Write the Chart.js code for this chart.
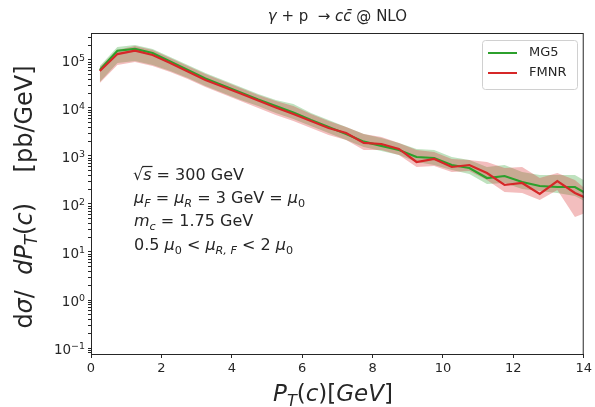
<!DOCTYPE html>
<html>
<head>
<meta charset="utf-8">
<script src="https://cdn.jsdelivr.net/npm/chart.js@4"></script>
<style>
  body { margin: 0; background: #fff; }
  canvas { display: block; }
</style>
</head>
<body>
<canvas id="myChart" width="595" height="407"></canvas>
<script>
// bin centres in GeV
var ptBins = [0.25, 0.75, 1.25, 1.75, 2.25, 2.75, 3.25, 3.75, 4.25, 4.75, 5.25, 5.75, 6.25, 6.75, 7.25,
              7.75, 8.25, 8.75, 9.25, 9.75, 10.25, 10.75, 11.25, 11.75, 12.25, 12.75, 13.25, 13.75, 14.25];

// MG5 central and scale band
var mg5 = [6.2e4, 1.56e5, 1.70e5, 1.40e5, 9.3e4, 6.2e4, 4.12e4, 2.94e4, 2.10e4, 1.50e4, 1.10e4, 8.06e3, 5.62e3, 4.02e3, 2.87e3,
           1.99e3, 1.62e3, 1.33e3, 953, 908, 649, 562, 348, 383, 287, 237, 226, 226, 140];
var mg5Up = [7.5e4, 1.87e5, 2.05e5, 1.70e5, 1.155e5, 7.87e4, 5.36e4, 3.83e4, 2.74e4, 1.96e4, 1.47e4, 1.21e4, 7.87e3, 5.62e3, 4.02e3,
             2.87e3, 2.37e3, 1.87e3, 1.40e3, 1.33e3, 953, 825, 590, 649, 464, 402, 402, 402, 249];
var mg5Lo = [3.48e4, 8.66e4, 9.5e4, 7.87e4, 5.9e4, 4.22e4, 2.87e4, 2.05e4, 1.47e4, 1.10e4, 7.87e3, 5.9e3, 4.22e3, 3.01e3, 2.15e3,
             1.54e3, 1.27e3, 1.05e3, 750, 649, 511, 422, 261, 274, 205, 187, 170, 147, 95];

// FMNR central and scale band
var fmnr = [5.9e4, 1.33e5, 1.56e5, 1.27e5, 8.66e4, 5.75e4, 3.83e4, 2.78e4, 2.0e4, 1.43e4, 1.02e4, 7.5e3, 5.36e3, 3.83e3, 3.01e3,
            1.87e3, 1.78e3, 1.40e3, 750, 866, 590, 649, 442, 249, 274, 162, 301, 170, 116];
var fmnrUp = [7.15e4, 1.62e5, 1.96e5, 1.62e5, 1.10e5, 7.5e4, 5.11e4, 3.65e4, 2.61e4, 1.87e4, 1.40e4, 1.10e4, 7.5e3, 5.36e3, 4.02e3,
              2.87e3, 2.49e3, 1.87e3, 1.33e3, 1.21e3, 866, 825, 750, 562, 590, 348, 442, 316, 154];
var fmnrLo = [3.32e4, 7.87e4, 9.08e4, 7.5e4, 5.62e4, 4.02e4, 2.74e4, 1.96e4, 1.40e4, 1.0e4, 7.15e3, 5.36e3, 3.83e3, 2.74e3, 2.15e3,
              1.33e3, 1.33e3, 1.05e3, 590, 619, 464, 487, 316, 178, 170, 121, 196, 53.6, 75];

var xTicks = [0, 2, 4, 6, 8, 10, 12, 14];
var yDecades = [-1, 0, 1, 2, 3, 4, 5];

var green = '#2ca02c';
var red = '#d62728';
var ink = '#262626';
var FONT = "'DejaVu Sans', sans-serif";

function pts(arr) {
    return ptBins.map(function (x, i) { return { x: x, y: arr[i] }; });
}

// draw a run of mixed text: kinds n = normal, i = italic, sn / si = subscript, up = superscript
function runFont(kind, size) {
    var sub = kind === 'sn' || kind === 'si';
    var sup = kind === 'up';
    var it = kind.indexOf('i') >= 0;
    var sz = (sub || sup) ? size * 0.7 : size;
    return { font: (it ? 'italic ' : '') + sz + 'px ' + FONT, dy: sub ? size * 0.22 : (sup ? -size * 0.38 : 0) };
}
function drawRuns(ctx, x, y, runs, size, align) {
    var total = 0;
    runs.forEach(function (r) {
        ctx.font = runFont(r[1], size).font;
        total += ctx.measureText(r[0]).width;
    });
    var cx = align === 'center' ? x - total / 2 : (align === 'right' ? x - total : x);
    ctx.textAlign = 'left';
    ctx.textBaseline = 'alphabetic';
    var spans = [];
    runs.forEach(function (r) {
        var f = runFont(r[1], size);
        ctx.font = f.font;
        var w = ctx.measureText(r[0]).width;
        ctx.fillText(r[0], cx, y + f.dy);
        spans.push([cx, w]);
        cx += w;
    });
    return spans;
}

var decorations = {
    id: 'decorations',
    afterDraw: function (chart) {
        var ctx = chart.ctx;
        var a = chart.chartArea;
        var ys = chart.scales.y;
        ctx.save();
        ctx.fillStyle = ink;

        // frame
        ctx.strokeStyle = ink;
        ctx.lineWidth = 1;
        ctx.strokeRect(a.left + 0.5, a.top + 0.5, a.right - a.left - 1, a.bottom - a.top);

        // decade labels 10^n
        yDecades.forEach(function (e) {
            var py = ys.getPixelForValue(Math.pow(10, e));
            drawRuns(ctx, a.left - 6, py + 6, [['10', 'n'], [String(e).replace('-', '\u2212'), 'up']], 13.5, 'right');
        });

        // title
        drawRuns(ctx, (a.left + a.right) / 2, 21,
            [['\u03B3', 'i'], [' + p  \u2192 ', 'n'], ['cc\u0304', 'i'], [' @ NLO', 'n']], 15, 'center');

        // annotations
        var s = drawRuns(ctx, 133, 180, [['\u221A', 'n'], ['s', 'i'], [' = 300 GeV', 'n']], 16);
        ctx.lineWidth = 1.2;
        ctx.beginPath();
        ctx.moveTo(s[1][0] - 1, 166.5);
        ctx.lineTo(s[1][0] + s[1][1] + 1, 166.5);
        ctx.stroke();
        drawRuns(ctx, 134, 203, [['\u03BC', 'i'], ['F', 'si'], [' = ', 'n'], ['\u03BC', 'i'], ['R', 'si'],
            [' = 3 GeV = ', 'n'], ['\u03BC', 'i'], ['0', 'sn']], 16);
        drawRuns(ctx, 134, 226, [['m', 'i'], ['c', 'si'], [' = 1.75 GeV', 'n']], 16);
        drawRuns(ctx, 134, 250, [['0.5 ', 'n'], ['\u03BC', 'i'], ['0', 'sn'], [' < ', 'n'], ['\u03BC', 'i'],
            ['R, F', 'si'], [' < 2 ', 'n'], ['\u03BC', 'i'], ['0', 'sn']], 16);

        // axis titles
        drawRuns(ctx, 333, 401,
            [['P', 'i'], ['T', 'si'], ['(', 'n'], ['c', 'i'], [')[', 'n'], ['GeV', 'i'], [']', 'n']], 23, 'center');
        ctx.save();
        ctx.translate(32, 197);
        ctx.rotate(-Math.PI / 2);
        drawRuns(ctx, 0, 0, [['d', 'n'], ['\u03C3', 'i'], ['/  ', 'n'], ['dP', 'i'], ['T', 'si'], ['(', 'n'], ['c', 'i'],
            [')    [pb/GeV]', 'n']], 24, 'center');
        ctx.restore();

        // legend
        var lx = 482, ly = 40, lw = 95, lh = 49;
        ctx.beginPath();
        ctx.roundRect(lx + 0.5, ly + 0.5, lw, lh, 3);
        ctx.fillStyle = 'rgba(255,255,255,0.8)';
        ctx.fill();
        ctx.strokeStyle = '#d0d0d0';
        ctx.lineWidth = 1;
        ctx.stroke();
        [[green, 'MG5', 53], [red, 'FMNR', 73]].forEach(function (e) {
            ctx.strokeStyle = e[0];
            ctx.lineWidth = 2;
            ctx.beginPath();
            ctx.moveTo(488, e[2]);
            ctx.lineTo(517, e[2]);
            ctx.stroke();
            ctx.fillStyle = ink;
            ctx.font = '13px ' + FONT;
            ctx.textBaseline = 'middle';
            ctx.fillText(e[1], 529, e[2]);
        });
        ctx.restore();
    }
};

function band(arr, color, fill, order) {
    return { data: pts(arr), borderWidth: 0, pointRadius: 0, fill: fill, backgroundColor: color,
             borderColor: 'rgba(0,0,0,0)', order: order };
}

var ctx = document.getElementById('myChart').getContext('2d');
var myChart = new Chart(ctx, {
    type: 'line',
    data: {
        datasets: [
            { label: 'FMNR', data: pts(fmnr), borderColor: red, borderWidth: 2.2, pointRadius: 0, fill: false, order: 0 },
            { label: 'MG5', data: pts(mg5), borderColor: green, borderWidth: 2.2, pointRadius: 0, fill: false, order: 1 },
            band(fmnrUp, 'rgba(214,39,40,0.3)', '+1', 2),
            band(fmnrLo, 'rgba(0,0,0,0)', false, 2),
            band(mg5Up, 'rgba(44,160,44,0.3)', '+1', 3),
            band(mg5Lo, 'rgba(0,0,0,0)', false, 3)
        ]
    },
    options: {
        responsive: false,
        animation: false,
        devicePixelRatio: 1,
        layout: { padding: { top: 33, right: 11, left: 0, bottom: 0 } },
        plugins: {
            legend: { display: false },
            tooltip: { enabled: false }
        },
        scales: {
            x: {
                type: 'linear',
                min: 0,
                max: 14,
                afterBuildTicks: function (s) { s.ticks = xTicks.map(function (v) { return { value: v }; }); },
                ticks: { font: { family: FONT, size: 13 }, color: ink, padding: 3, maxRotation: 0 },
                grid: { drawOnChartArea: false, tickLength: 4, tickColor: ink },
                border: { color: ink },
                afterFit: function (s) { s.height = 53; }
            },
            y: {
                type: 'logarithmic',
                min: 0.075,
                max: 3.65e5,
                afterBuildTicks: function (s) {
                    var t = [];
                    for (var e = -2; e <= 5; e++) {
                        for (var m = 1; m <= 9; m++) {
                            var v = m * Math.pow(10, e);
                            if (v >= s.min && v <= s.max) t.push({ value: v });
                        }
                    }
                    s.ticks = t;
                },
                // decade labels are drawn with real superscripts by the plugin
                ticks: { autoSkip: false, display: true, color: 'rgba(0,0,0,0)', callback: function () { return ''; } },
                grid: { drawOnChartArea: false, tickLength: 3, tickColor: ink },
                border: { color: ink },
                afterFit: function (s) { s.width = 91; }
            }
        }
    },
    plugins: [decorations]
});
</script>
</body>
</html>
